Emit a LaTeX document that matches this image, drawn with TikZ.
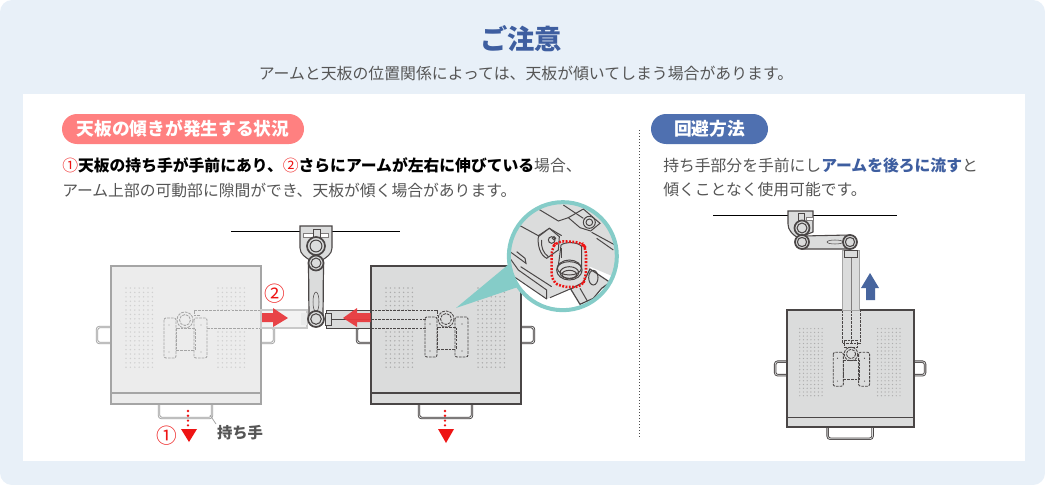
\documentclass[tikz,border=0pt]{standalone}
\usepackage{fontspec}
\setmainfont{Noto Sans CJK JP}
\definecolor{PanelBg}{RGB}{232,240,248}
\definecolor{TitleBlue}{RGB}{62,94,160}
\definecolor{PillBlue}{RGB}{79,112,176}
\definecolor{PillRed}{RGB}{255,128,128}
\definecolor{BodyGray}{RGB}{85,85,85}
\definecolor{MarkRed}{RGB}{238,20,20}
\definecolor{ArrowRed}{RGB}{232,58,62}
\definecolor{LensTeal}{RGB}{133,204,200}
\definecolor{SteelLine}{RGB}{74,70,70}
\definecolor{SteelFill}{RGB}{219,220,220}
\definecolor{SteelDots}{RGB}{172,172,172}
\definecolor{GhostLine}{RGB}{165,165,165}
\definecolor{GhostFill}{RGB}{236,236,236}
\definecolor{GhostDots}{RGB}{208,208,208}
\tikzset{
  pilllabel/.style={rounded corners=15*0.75pt,minimum height=30*0.75pt,text=white,font=\bfseries\fontsize{13.3}{16}\selectfont},
  bodytext/.style={anchor=west,inner sep=0pt,text=BodyGray,font=\fontsize{11.85}{14}\selectfont},
  redmark/.style={inner sep=0pt,text=MarkRed,font=\fontsize{15.5}{18}\selectfont},
  dropdots/.style={draw=MarkRed,line width=2pt,line cap=round,dash pattern=on 0pt off 3.6pt},
  hidden/.style={dash pattern=on 2pt off 0.8pt,line width=0.65pt},
  tube/.style={line width=0.65pt,double=#1,double distance=0.55pt,rounded corners=2pt},
  pics/desktop/.style n args={3}{code={
    \fill[white] (-14,61) rectangle (1,77);
    \fill[white] (149,61) rectangle (163,77);
    \fill[white] (48,138) rectangle (101,152);
    \draw[#1,tube=#2] (1,61) -- (-14,61) -- (-14,77) -- (1,77);
    \draw[#1,tube=#2] (149,61) -- (163,61) -- (163,77) -- (149,77);
    \draw[#1,tube=#2] (48,138) -- (48,152) -- (101,152) -- (101,138);
    \draw[#1,fill=#2,line width=1.1pt] (0,0) rectangle (150,138);
    \draw[#1,line width=0.9pt] (0,127) -- (150,127);
    \foreach \col in {0,...,6}
      \foreach \row in {0,...,18} {
        \fill[#3] (15+\col*4.4,22+\row*4.4) circle (0.8);
        \fill[#3] (107+\col*4.4,22+\row*4.4) circle (0.8);
      }
  }},
  pics/mount/.style={code={
    \draw[#1,hidden,rounded corners=1.5pt] (-21,-2) rectangle (-9,38);
    \draw[#1,hidden,rounded corners=1.5pt] (9,-2) rectangle (22,38);
    \draw[#1,hidden] (-9,8) rectangle (10,30);
    \draw[#1,hidden] (0,0) circle (8);
    \draw[#1,hidden] (0,0) circle (5.5);
    \foreach \dotx/\doty in {-16/5,-16/32,16/5,16/32}
      \fill[#1] (\dotx,\doty) circle (0.7);
  }},
  pics/joint/.style={code={
    \draw[SteelLine,line width=1.3pt,fill=SteelFill] (0,0) circle (#1);
    \draw[SteelLine,line width=0.8pt] (0,0) circle (#1*0.66);
  }},
}
\begin{document}
\begin{tikzpicture}[x=0.75pt,y=-0.75pt]
  \useasboundingbox (0,0) rectangle (1045,485);
  \fill[PanelBg,rounded corners=9pt] (0,0) rectangle (1045,485);
  \fill[white] (23,94) rectangle (1025,461);

  \node[text=TitleBlue,font=\bfseries\fontsize{20.5}{24}\selectfont,inner sep=0pt] (title) at (521,39) {ご注意};
  \node[text=BodyGray,font=\fontsize{11.9}{14}\selectfont,inner sep=0pt] (subtitle) at (526,73)
    {アームと天板の位置関係によっては、天板が傾いてしまう場合があります。};

  \node[pilllabel,fill=PillRed,minimum width=242*0.75pt] (causepill) at (183,129) {天板の傾きが発生する状況};
  \node[pilllabel,fill=PillBlue,minimum width=117*0.75pt] (fixpill) at (709.5,129) {回避方法};

  \node[bodytext] (causeone) at (62,165)
    {\textcolor{MarkRed}{①}\textbf{\textcolor{black}{天板の持ち手が手前にあり、}}\textcolor{MarkRed}{②}\textbf{\textcolor{black}{さらにアームが左右に伸びている}}場合、};
  \node[bodytext] (causetwo) at (62,190) {アーム上部の可動部に隙間ができ、天板が傾く場合があります。};
  \node[bodytext] (fixone) at (663,165) {持ち手部分を手前にし\textbf{\textcolor{TitleBlue}{アームを後ろに流す}}と};
  \node[bodytext] (fixtwo) at (663,190) {傾くことなく使用可能です。};

  \draw[black!70,line width=0.75pt,dash pattern=on 0.75pt off 1.5pt] (639,130) -- (639,437);

  % left drawing
  \draw[black,line width=0.75pt] (231,231) -- (400,231);
  \pic at (111,266) {desktop={GhostLine}{GhostFill}{GhostDots}};
  \fill[GhostFill] (194,310) rectangle (261,328);
  \draw[GhostLine,hidden] (200,315) -- (194,315) -- (194,310) -- (261,310);
  \draw[GhostLine,hidden] (207,328) -- (261,328);
  \pic at (185,320) {mount={GhostLine}};
  \draw[GhostLine!60,fill=GhostFill!70!white,line width=0.8pt] (261,310) rectangle (307,328);
  \fill[SteelFill!60!white] (301,313) rectangle (307,325);

  \pic at (371,266) {desktop={SteelLine}{SteelFill}{SteelDots}};
  \fill[SteelFill] (372,310) rectangle (437,328);
  \draw[SteelLine,hidden] (371,310) -- (437,310) -- (437,316);
  \draw[SteelLine,hidden] (371,319) -- (426,319);
  \draw[SteelLine,hidden] (371,328) -- (426,328);
  \pic at (446,319) {mount={SteelLine}};

  \draw[SteelLine,fill=SteelFill,line width=0.7pt] (326,310) rectangle (370.5,328);
  \draw[SteelLine,line width=0.5pt] (326,319) -- (370.5,319);
  \draw[SteelLine,fill=SteelFill,line width=0.6pt] (325,313) rectangle (331,325);

  \draw[SteelLine,fill=SteelFill,line width=0.8pt] (300,226) -- (332,226) -- (332,248)
    .. controls (332,254) and (326,258) .. (322,260) -- (310,260)
    .. controls (306,258) and (300,254) .. (300,248) -- cycle;
  \draw[SteelLine!70,fill=white,line width=0.4pt] (303,233) rectangle (328,237);
  \draw[SteelLine,fill=SteelFill,line width=0.5pt] (313,229) rectangle (320,240);
  \draw[SteelLine,fill=SteelFill,line width=0.9pt] (308.5,263) -- (323.5,263) -- (323,318) -- (309,318) -- cycle;
  \draw[SteelLine,line width=0.4pt] (316,302) ellipse (3 and 10);
  \pic at (316,246) {joint=9};
  \pic at (316,263) {joint=7.5};
  \pic at (316,319) {joint=8};

  \fill[ArrowRed,fill opacity=0.95] (262,313) -- (273,313) -- (273,308) -- (288,318) -- (273,327) -- (273,322) -- (262,322) -- cycle;
  \fill[ArrowRed,fill opacity=0.95] (370.5,313) -- (357,313) -- (357,308) -- (343,318) -- (357,327) -- (357,322) -- (370.5,322) -- cycle;
  \node[redmark] (marktwo) at (275,294) {②};
  \node[redmark] (markone) at (167,436) {①};

  \draw[dropdots] (188,411) -- (188,427);
  \fill[MarkRed] (181,429) -- (197,429) -- (189,442) -- cycle;
  \draw[dropdots] (445,411) -- (445,427);
  \fill[MarkRed] (438,429) -- (454,429) -- (446,443) -- cycle;

  \node[text=BodyGray,font=\bfseries\fontsize{11.5}{14}\selectfont,inner sep=0pt] (handlelabel) at (240,433) {持ち手};
  \coordinate (handletip) at (210,415);
  \coordinate (handleend) at (216,424);
  \draw[GhostLine,line width=0.6pt] (handletip) -- (handleend);

  % magnified view
  \fill[LensTeal] (456,308) -- (509,264) -- (521,286) -- cycle;
  \begin{scope}[shift={(500,195)},x=0.25pt,y=-0.25pt]
    \fill[white] (188.5,183.5) circle (162);
    \begin{scope}
      \clip (188.5,183.5) circle (162);
      \fill[SteelFill] (0,0) -- (400,0) -- (400,270) -- (270,215) -- (250,270) -- (215,280) -- (150,308) -- (140,312) -- (20,230) -- cycle;
      \begin{scope}[SteelLine,line width=0.75pt]
        \draw (60,92) -- (115,122) -- (148,100) -- (185,122);
        \draw (115,42) -- (175,78) -- (205,68);
        \draw (150,25) -- (115,42);
        \draw (205,68) -- (250,42) -- (300,85) -- (272,108) -- (240,98) -- cycle;
        \draw[fill=SteelFill] (268,82) circle (18);
        \draw (268,82) circle (10);
        \draw (275,112) -- (345,150);
        \draw (190,30) -- (250,70);
        \draw (30,170) -- (78,205) -- (75,190) -- (50,170);
        \draw (30,190) -- (55,225) -- (140,285) -- (140,312);
        \draw (62,215) -- (155,275);
        \draw (150,308) -- (215,280);
        \draw (20,230) -- (140,312);
        \draw (290,130) -- (340,165);
        \draw[fill=SteelFill] (115,125) -- (148,100) -- (178,125) -- (175,165) -- (140,190)
          .. controls (120,180) and (112,150) .. (115,125);
        \draw (125,135) .. controls (122,155) and (130,175) .. (145,185);
        \draw (155,135) circle (10);
        \draw (162,130) circle (5);
        \draw[fill=SteelFill] (183,150) .. controls (195,140) and (235,140) .. (245,155) -- (245,232) -- (172,232) -- (178,190) -- cycle;
        \draw[fill=SteelFill] (208,225) ellipse (38 and 30);
        \draw (208,220) ellipse (36 and 20);
        \draw (208,233) ellipse (28 and 18);
        \draw (208,238) ellipse (22 and 12);
        \draw (183,160) -- (183,190);
        \draw[fill=SteelFill,line width=0.9pt] (212,282) -- (240,328) -- (280,310) -- (305,280) -- (330,262) -- (270,222) -- (250,262) -- cycle;
        \draw (280,248) ellipse (14 and 22);
        \draw (240,280) -- (262,318);
      \end{scope}
    \end{scope}
    \draw[MarkRed,line width=1.9pt,rounded corners=5pt,dash pattern=on 1.4pt off 1.1pt]
      (172,138) -- (155,160) -- (155,258) -- (185,276) -- (245,276) -- (258,245) -- (258,160) -- (245,142) -- cycle;
    \draw[LensTeal,line width=3pt] (188.5,183.5) circle (162);
  \end{scope}

  % right drawing
  \draw[black,line width=0.75pt] (713,215) -- (897,215);
  \pic[scale=0.847] at (787,310) {desktop={SteelLine}{SteelFill}{SteelDots}};
  \draw[SteelLine,hidden,fill=SteelFill] (842,310) -- (842,343) -- (860,343) -- (860,310);
  \draw[SteelLine,hidden] (851,310) -- (851,343);
  \draw[SteelLine,hidden] (844,340) rectangle (857,347);
  \pic[scale=0.847] at (851,354) {mount={SteelLine}};
  \draw[GhostLine,fill=SteelFill,line width=0.7pt] (842,250) rectangle (859,310);
  \draw[SteelLine!70,line width=0.5pt] (851,250) -- (851,310);
  \draw[SteelLine,fill=SteelFill,line width=0.6pt] (844,250) rectangle (857,257);
  \draw[SteelLine,fill=SteelFill,line width=0.8pt] (788,211) -- (813,211) -- (813,232) -- (798,238)
    .. controls (792,234) and (788,230) .. (788,224) -- cycle;
  \draw[SteelLine!70,fill=white,line width=0.4pt] (806,217) rectangle (813,220);
  \draw[SteelLine,fill=SteelFill,line width=0.5pt] (798,213) rectangle (804,230);
  \pic at (802,228) {joint=7.5};
  \draw[SteelLine,fill=SteelFill,line width=0.8pt] (802,236) -- (850,235) -- (850,249) -- (802,249) -- cycle;
  \draw[SteelLine,line width=0.4pt] (835,242) ellipse (8 and 2);
  \pic at (802,242) {joint=7};
  \pic at (850,242) {joint=7};
  \fill[PillBlue!90!black] (866,300) -- (866,288) -- (861,288) -- (870,273) -- (879,288) -- (875,288) -- (875,300) -- cycle;
\end{tikzpicture}
\end{document}
